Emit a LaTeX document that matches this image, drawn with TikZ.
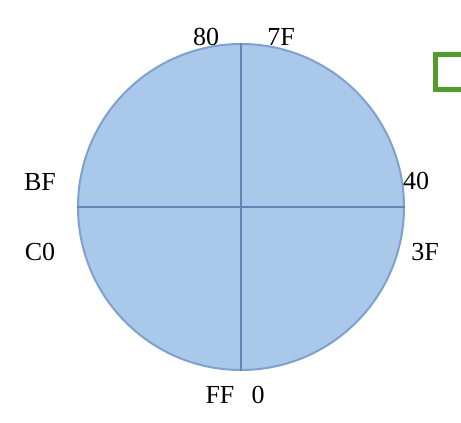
\documentclass[tikz,border=0pt]{standalone}
\usepackage{fontspec}
\setmainfont{Liberation Serif}
\usetikzlibrary{positioning}
\definecolor{RingFill}{HTML}{A9C8EA}
\definecolor{RingEdge}{HTML}{7FA2CC}
\definecolor{RingAxis}{HTML}{6286B4}
\definecolor{MarkGreen}{HTML}{559A2C}
\tikzset{
  ringdisc/.style={
    draw=RingEdge,
    fill=RingFill,
    line width=2pt
  },
  ringaxis/.style={draw=RingAxis,line width=2pt},
  hexlabel/.style={
    inner sep=0pt,
    font=\fontsize{26}{28}\selectfont
  },
  markbox/.style={draw=MarkGreen,line width=5pt}
}

\begin{document}
\begin{tikzpicture}[x=1pt,y=-1pt]
  \useasboundingbox (0,0) rectangle (461,423);
  \fill[white] (0,0) rectangle (461,423);
  \node[ringdisc,circle,minimum size=326pt,inner sep=0pt] (ring) at (241,207) {};
  \draw[ringaxis] (ring.north) -- (ring.south);
  \draw[ringaxis] (ring.west) -- (ring.east);
  % byte values round the ring
  \node[hexlabel] (l80) at (206,37) {80};
  \node[hexlabel] (l7F) at (281,37) {7F};
  \node[hexlabel] (lBF) at (40,182) {BF};
  \node[hexlabel] (lC0) at (40,252) {C0};
  \node[hexlabel] (l40) at (416,181) {40};
  \node[hexlabel] (l3F) at (425,252) {3F};
  \node[hexlabel] (lFF) at (220,395) {FF};
  \node[hexlabel] (l0) at (258,395) {0};
  \draw[markbox] (435.5,54.5) rectangle (475,89.5);
\end{tikzpicture}
\end{document}
